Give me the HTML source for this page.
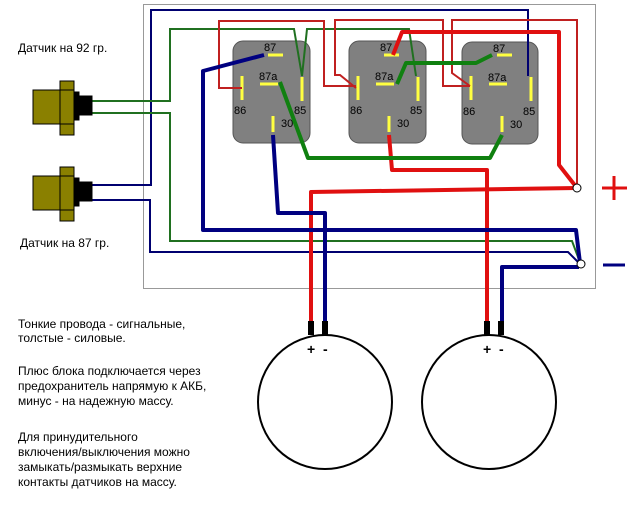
<!DOCTYPE html>
<html><head><meta charset="utf-8"><style>
html,body{margin:0;padding:0;background:#fff;width:640px;height:512px;overflow:hidden}
svg{display:block;font-family:"Liberation Sans",sans-serif}
</style></head><body>
<svg width="640" height="512" viewBox="0 0 640 512" xmlns="http://www.w3.org/2000/svg">
<rect x="143.5" y="4.5" width="452" height="284" fill="none" stroke="#999" stroke-width="1"/>
<!-- relays -->
<g id="r">
<rect x="233" y="41" width="77" height="102" rx="10" fill="#808080" stroke="#555"/>
</g>
<rect x="349" y="41" width="77" height="102" rx="10" fill="#808080" stroke="#555"/>
<rect x="462" y="42" width="76" height="102" rx="10" fill="#808080" stroke="#555"/>
<g stroke="#ffff40" stroke-width="3" fill="none">
<path d="M268 55H283M260 84H278M242 76V100M302 77V101M273 116V132"/>
<path d="M384 55H399M376 84H394M358 76V100M418 77V101M389 116V132"/>
<path d="M497 55H512M489 84H507M471 76V100M531 77V101M502 116V132"/>
</g>
<g font-size="11" fill="#000">
<text x="264" y="51">87</text><text x="259" y="80">87a</text><text x="234" y="114">86</text><text x="294" y="114">85</text><text x="281" y="127">30</text>
<text x="380" y="51">87</text><text x="375" y="80">87a</text><text x="350" y="114">86</text><text x="410" y="114">85</text><text x="397" y="127">30</text>
<text x="493" y="52">87</text><text x="488" y="81">87a</text><text x="463" y="115">86</text><text x="523" y="115">85</text><text x="510" y="128">30</text>
</g>
<!-- thin wires -->
<g fill="none" stroke-width="2">
<path stroke="#000070" d="M92 185H151V10H528V76"/>
<path stroke="#000070" d="M92 200H150V252H568L581 265"/>
<path stroke="#207020" d="M92 101H170V29H294L302 76L307 29H409L416 76"/>
<path stroke="#207020" d="M92 113H170V241H572L581 265"/>
<path stroke="#c02020" d="M242 88H219V21H324V86H356"/>
<path stroke="#c02020" d="M356 88L340 75H335V20H443V86H470"/>
<path stroke="#c02020" d="M470 86L452 73V20H577V187"/>
</g>
<!-- thick wires -->
<g fill="none" stroke-width="4" stroke-linejoin="round">
<path stroke="#e01010" d="M393 55L402 32H559V165L577 188"/>
<path stroke="#e01010" d="M389 135L392 170H487V322"/>
<path stroke="#e01010" d="M311 322V192L577 188"/>
<path stroke="#000080" d="M264 55L203 71V230H576L580 263"/>
<path stroke="#000080" d="M273 135L278 213H325V322"/>
<path stroke="#000080" d="M502 322V267H579"/>
<path stroke="#108010" d="M280 82L308 158H490L502 135"/>
<path stroke="#108010" d="M397 84L406 63H476L492 55"/>
</g>
<circle cx="577" cy="188" r="4" fill="#fff" stroke="#000"/>
<circle cx="581" cy="264" r="4" fill="#fff" stroke="#000"/>
<path d="M602 188H627M614 176V200" stroke="#e01010" stroke-width="3"/>
<path d="M603 265H625" stroke="#000080" stroke-width="3"/>
<!-- sensors -->
<g stroke="#000" stroke-width="1">
<rect x="33" y="90" width="27" height="34" fill="#8a8000"/>
<rect x="60" y="81" width="14" height="54" fill="#8a8000"/>
<path d="M60 90H74M60 124H74"/>
<rect x="74" y="92" width="5" height="28" fill="#000"/>
<rect x="79" y="96" width="13" height="19" fill="#000"/>
<rect x="33" y="176" width="27" height="34" fill="#8a8000"/>
<rect x="60" y="167" width="14" height="54" fill="#8a8000"/>
<path d="M60 176H74M60 210H74"/>
<rect x="74" y="178" width="5" height="28" fill="#000"/>
<rect x="79" y="182" width="13" height="19" fill="#000"/>
</g>
<!-- speakers -->
<circle cx="325" cy="402" r="67" fill="#fff" stroke="#000" stroke-width="2"/>
<circle cx="489" cy="402" r="67" fill="#fff" stroke="#000" stroke-width="2"/>
<g fill="#000">
<rect x="308" y="321" width="6" height="14"/><rect x="322" y="321" width="6" height="14"/>
<rect x="484" y="321" width="6" height="14"/><rect x="498" y="321" width="6" height="14"/>
</g>
<g font-size="14" font-weight="bold"><text x="307" y="354">+</text><text x="323" y="354">-</text><text x="483" y="354">+</text><text x="499" y="354">-</text></g>
<g font-size="12" fill="#000">
<text x="18" y="52">Датчик на 92 гр.</text>
<text x="20" y="247">Датчик на 87 гр.</text>
<text x="18" y="328">Тонкие провода - сигнальные,</text>
<text x="18" y="342">толстые - силовые.</text>
<text x="18" y="375">Плюс блока подключается через</text>
<text x="18" y="390">предохранитель напрямую к АКБ,</text>
<text x="18" y="405">минус - на надежную массу.</text>
<text x="18" y="441">Для принудительного</text>
<text x="18" y="456">включения/выключения можно</text>
<text x="18" y="471">замыкать/размыкать верхние</text>
<text x="18" y="486">контакты датчиков на массу.</text>
</g>
</svg>
</body></html>
